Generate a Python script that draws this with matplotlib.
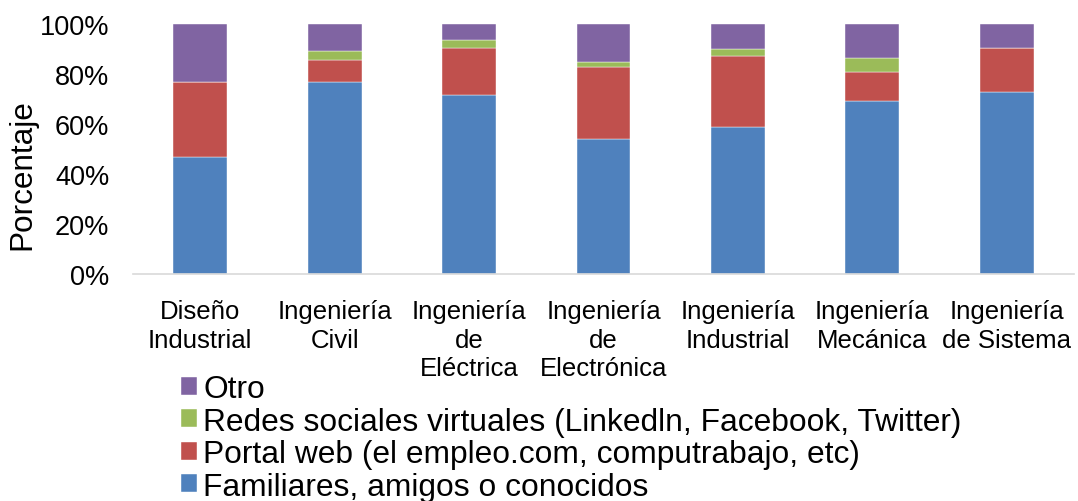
import matplotlib

matplotlib.use("Agg")

import matplotlib.pyplot as plt  # noqa: E402
import numpy as np  # noqa: E402

plt.rcParams["font.family"] = ["Liberation Sans", "DejaVu Sans"]

# --- Datos (porcentajes) ---
categorias = [
    "Diseño\nIndustrial",
    "Ingeniería\nCivil",
    "Ingeniería\nde\nEléctrica",
    "Ingeniería\nde\nElectrónica",
    "Ingeniería\nIndustrial",
    "Ingeniería\nMecánica",
    "Ingeniería\nde Sistema",
]
familiares = [47.0, 77.0, 71.5, 54.0, 59.0, 69.3, 73.0]
portal = [29.8, 8.8, 19.0, 29.0, 28.4, 11.4, 17.6]
redes = [0.0, 3.4, 3.1, 1.9, 2.6, 5.7, 0.0]
otro = [23.2, 10.8, 6.4, 15.1, 10.0, 13.6, 9.4]

series = [
    ("Familiares, amigos o conocidos", familiares, "#4F81BD"),
    ("Portal web (el empleo.com, computrabajo, etc)", portal, "#C0504D"),
    ("Redes sociales virtuales (Linkedln, Facebook, Twitter)", redes, "#9BBB59"),
    ("Otro", otro, "#8064A2"),
]

W, H = 1078, 502
fig = plt.figure(figsize=(W / 100, H / 100), dpi=100)
ax = fig.add_axes([133 / W, 1 - 275 / H, 941 / W, 250 / H])

x = np.arange(len(categorias))
base = np.zeros(len(categorias))
handles = []
for nombre, vals, color in series:
    b = ax.bar(x, vals, width=0.4, bottom=base, color=color, label=nombre,
               edgecolor="white", linewidth=0.3)
    handles.append(b)
    base += np.array(vals)

ax.set_xlim(-0.5, len(categorias) - 0.5)
ax.set_ylim(0, 100)
ax.set_yticks(np.arange(0, 101, 20))
ax.set_yticklabels([f"{v}%" for v in range(0, 101, 20)], fontsize=19.5)
ax.set_xticks(x)
ax.set_xticklabels(categorias, fontsize=18.5, linespacing=1.25)
ax.tick_params(axis="y", length=0, pad=17)
ax.tick_params(axis="x", length=0, pad=18)

for side in ("top", "right", "left"):
    ax.spines[side].set_visible(False)
ax.spines["bottom"].set_color("#D9D9D9")
ax.spines["bottom"].set_linewidth(1.2)

fig.text(22 / W, 1 - 175 / H, "Porcentaje", rotation=90, fontsize=22.7,
         ha="center", va="center")

# Leyenda en orden inverso, apilada debajo del gráfico
fig.legend(handles[::-1], [s[0] for s in series][::-1],
           loc="upper left", bbox_to_anchor=(181 / W, 1 - 375 / H),
           frameon=False, fontsize=22.9, handlelength=0.5, handleheight=0.5,
           handletextpad=0.2, labelspacing=0.08, borderpad=0, borderaxespad=0)

fig.savefig("out.png", dpi=100)
